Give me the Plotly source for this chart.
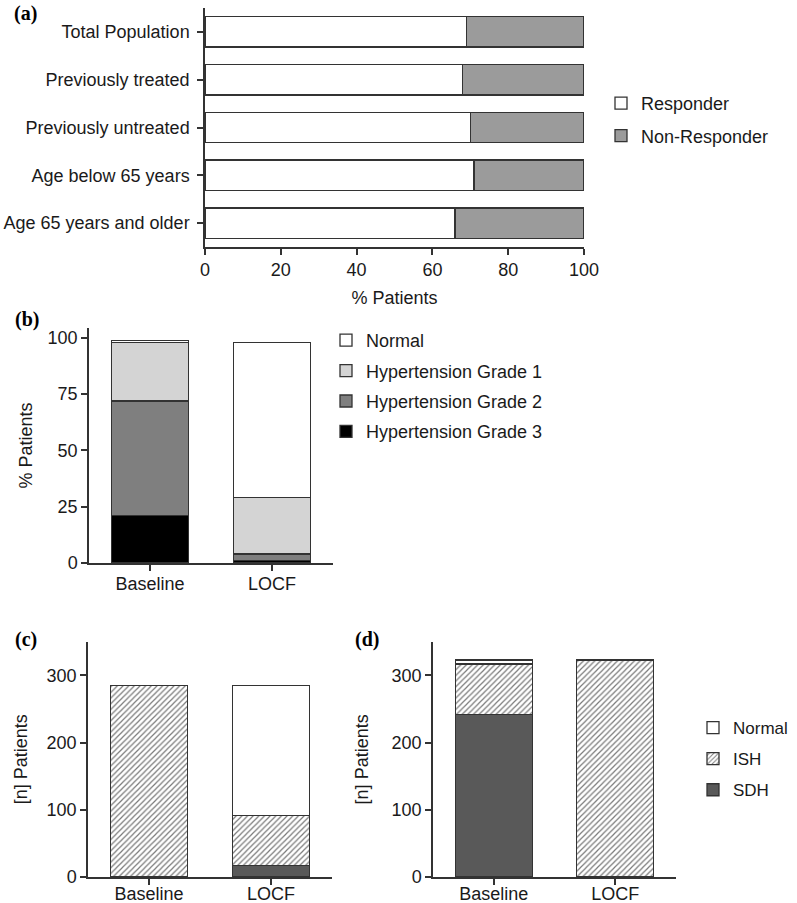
import plotly.graph_objects as go

W, H = 797, 903

# (a) responder analysis
groups_a = ['Total Population', 'Previously treated', 'Previously untreated',
            'Age below 65 years', 'Age 65 years and older']
responder = [69, 68, 70, 71, 66]
non_responder = [31, 32, 30, 29, 34]

# (b) hypertension grades, % patients
visits = ['Baseline', 'LOCF']
grade3 = [21, 1]
grade2 = [51, 3]
grade1 = [26, 25]
normal_b = [1, 69]

# (c) [n] patients
sdh_c = [0, 17]
ish_c = [285, 75]
normal_c = [0, 193]

# (d) [n] patients
sdh_d = [242, 0]
ish_d = [75, 323]
normal_d = [6, 0]

FONT = 'Liberation Sans, Arial, sans-serif'
LINE = dict(color='#333333', width=1.3)
HATCH = dict(shape='/', fgcolor='#7a7a7a', bgcolor='white', size=4, solidity=0.3)


def px_x(p):
    return p / W


def px_y(p):
    return 1 - p / H


fig = go.Figure()

# panel a
fig.add_trace(go.Bar(y=groups_a, x=responder, orientation='h', name='Responder',
                     marker=dict(color='white', line=LINE), xaxis='x', yaxis='y',
                     legend='legend', legendgroup='r', legendrank=1))
fig.add_trace(go.Bar(y=groups_a, x=non_responder, orientation='h', name='Non-Responder',
                     marker=dict(color='#9b9b9b', line=LINE), xaxis='x', yaxis='y',
                     legend='legend', legendgroup='nr', legendrank=2))

# panel b
for vals, name, col, rank in [(grade3, 'Hypertension Grade 3', 'black', 4),
                              (grade2, 'Hypertension Grade 2', '#7f7f7f', 3),
                              (grade1, 'Hypertension Grade 1', '#d4d4d4', 2),
                              (normal_b, 'Normal', 'white', 1)]:
    fig.add_trace(go.Bar(x=visits, y=vals, name=name, marker=dict(color=col, line=LINE),
                         xaxis='x2', yaxis='y2', legend='legend2', legendgroup=name,
                         legendrank=rank))

# panel c
fig.add_trace(go.Bar(x=visits, y=sdh_c, name='SDH', marker=dict(color='#595959', line=LINE),
                     xaxis='x3', yaxis='y3', showlegend=False))
fig.add_trace(go.Bar(x=visits, y=ish_c, name='ISH', marker=dict(color='white', line=LINE, pattern=HATCH),
                     xaxis='x3', yaxis='y3', showlegend=False))
fig.add_trace(go.Bar(x=visits, y=normal_c, name='Normal', marker=dict(color='white', line=LINE),
                     xaxis='x3', yaxis='y3', showlegend=False))

# panel d
fig.add_trace(go.Bar(x=visits, y=sdh_d, name='SDH', marker=dict(color='#595959', line=LINE),
                     xaxis='x4', yaxis='y4', legend='legend3', legendgroup='sdh', legendrank=3))
fig.add_trace(go.Bar(x=visits, y=ish_d, name='ISH', marker=dict(color='white', line=LINE, pattern=HATCH),
                     xaxis='x4', yaxis='y4', legend='legend3', legendgroup='ish', legendrank=2))
fig.add_trace(go.Bar(x=visits, y=normal_d, name='Normal', marker=dict(color='white', line=LINE),
                     xaxis='x4', yaxis='y4', legend='legend3', legendgroup='normal', legendrank=1))

axis_style = dict(showline=True, linecolor='#333333', linewidth=1.5, ticks='outside',
                  ticklen=6, tickwidth=1.5, tickcolor='#333333', showgrid=False,
                  zeroline=False, automargin=False,
                  tickfont=dict(family=FONT, size=18, color='#1a1a1a'),
                  title_font=dict(family=FONT, size=18, color='#1a1a1a'))

legend_style = dict(font=dict(family=FONT, size=18, color='#1a1a1a'), bgcolor='rgba(0,0,0,0)',
                    xanchor='left', yanchor='top', traceorder='grouped')

fig.update_layout(
    template='none',
    width=W, height=H, margin=dict(l=0, r=0, t=0, b=0),
    paper_bgcolor='white', plot_bgcolor='white',
    barmode='stack', bargap=0.365,
    xaxis=dict(axis_style, domain=[px_x(205), px_x(584)], range=[0, 100], dtick=20,
               anchor='y', title=dict(text='% Patients', standoff=12)),
    yaxis=dict(axis_style, domain=[px_y(247), px_y(8)], range=[4.5, -0.5], anchor='x',
               ticklabelstandoff=4),
    xaxis2=dict(axis_style, domain=[px_x(89), px_x(333)], range=[-0.5, 1.5], anchor='y2',
                ticklabelstandoff=-2),
    yaxis2=dict(axis_style, domain=[px_y(563), px_y(328)], range=[0, 104.4], dtick=25,
                anchor='x2', title=dict(text='% Patients', standoff=10)),
    xaxis3=dict(axis_style, domain=[px_x(88), px_x(332)], range=[-0.5, 1.5], anchor='y3',
                ticklabelstandoff=-6),
    yaxis3=dict(axis_style, domain=[px_y(877), px_y(641.7)], range=[0, 350], dtick=100,
                anchor='x3', title=dict(text='[n] Patients', standoff=14)),
    xaxis4=dict(axis_style, domain=[px_x(433), px_x(676)], range=[-0.5, 1.5], anchor='y4',
                ticklabelstandoff=-6),
    yaxis4=dict(axis_style, domain=[px_y(877), px_y(641.7)], range=[0, 350], dtick=100,
                anchor='x4', title=dict(text='[n] Patients', standoff=18)),
    legend=dict(legend_style, x=px_x(601), y=px_y(85), tracegroupgap=6),
    legend2=dict(legend_style, x=px_x(326), y=px_y(322), tracegroupgap=4),
    # smaller font keeps this legend inside the page so it does not push the margins
    legend3=dict(legend_style, x=px_x(693), y=px_y(710), tracegroupgap=6,
                 font=dict(family=FONT, size=17, color='#1a1a1a')),
)

for label, x, y in [('(a)', 12, 0), ('(b)', 13, 306), ('(c)', 13, 626), ('(d)', 353, 626)]:
    fig.add_annotation(text='<b>%s</b>' % label, xref='paper', yref='paper',
                       x=px_x(x), y=px_y(y), xanchor='left', yanchor='top', showarrow=False,
                       font=dict(family='Liberation Serif, Times New Roman, serif', size=20,
                                 color='black'))

# no body margin or scrollbars, so the fixed-size figure fills the window exactly
page_fix = ("document.documentElement.style.overflow='hidden';"
            "document.body.style.margin='0';document.body.style.overflow='hidden';")
fig.write_html('out.html', config={'displayModeBar': False, 'responsive': False},
               post_script=page_fix)
